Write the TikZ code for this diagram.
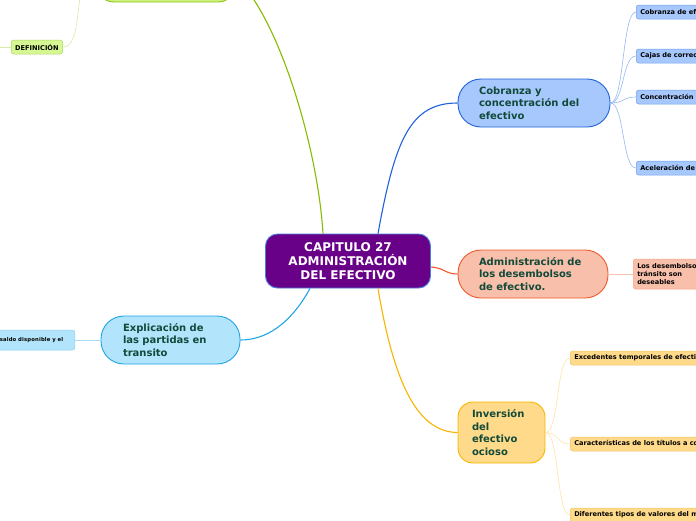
\documentclass[tikz,border=0pt]{standalone}
\usepackage{fontspec}
\setmainfont{DejaVu Sans}
\usepackage{tikz}
\usetikzlibrary{positioning}

\definecolor{morado}{HTML}{690088}
\definecolor{bordecentro}{HTML}{4A7FE0}
\definecolor{verdeosc}{HTML}{124A3A}
\definecolor{verde}{HTML}{CCF27C}
\definecolor{verdeborde}{HTML}{8CC41A}
\definecolor{verdelinea}{HTML}{86BC00}
\definecolor{verdeclaro}{HTML}{D6F794}
\definecolor{verdehoja}{HTML}{ADD85E}
\definecolor{verdeclaroln}{HTML}{D5EDA4}
\definecolor{azul}{HTML}{A6C8FD}
\definecolor{azulborde}{HTML}{1F62D8}
\definecolor{azulhoja}{HTML}{6FA0EE}
\definecolor{azullinea}{HTML}{1F62D8}
\definecolor{azulclaro}{HTML}{94B8F2}
\definecolor{salmon}{HTML}{F8BFAA}
\definecolor{salmonborde}{HTML}{F2572B}
\definecolor{salmonhoja}{HTML}{F4A68A}
\definecolor{salmonlinea}{HTML}{F2572B}
\definecolor{salmonclaro}{HTML}{FAC6B2}
\definecolor{amarillo}{HTML}{FFDA8A}
\definecolor{amarilloborde}{HTML}{F7B500}
\definecolor{amarillohoja}{HTML}{F2C468}
\definecolor{amarillolinea}{HTML}{F7B500}
\definecolor{amarilloclaro}{HTML}{FFE2A6}
\definecolor{celeste}{HTML}{B2E5FB}
\definecolor{celesteborde}{HTML}{20A4E6}
\definecolor{celestehoja}{HTML}{8AD0F0}
\definecolor{celestelinea}{HTML}{20A4E6}
\definecolor{celesteclaro}{HTML}{A6DDF5}

\begin{document}
\begin{tikzpicture}[x=1pt,y=-1pt]
	\tikzstyle{every node}=[font=\bfseries]
	\tikzstyle{rama}=[draw, line width=0.9pt, text=verdeosc, align=left, minimum height=48pt, inner ysep=0pt, font=\bfseries\fontsize{10}{12.5}\selectfont]
	\tikzstyle{hoja}=[draw, line width=0.5pt, rounded corners=2.5pt, anchor=west, align=left, minimum height=14pt, inner xsep=4pt, inner ysep=0pt, font=\bfseries\fontsize{6.6}{7.8}\selectfont]
	\tikzstyle{enlace}=[line width=1.1pt]
	\tikzstyle{ramita}=[line width=0.6pt]
	
	\useasboundingbox (0,0) rectangle (696,520);
	\clip (0,0) rectangle (696,520);
	
	%nodo central
	\node[draw=bordecentro, fill=morado, text=white, line width=0.9pt, rounded corners=12pt, minimum width=165pt, minimum height=54pt, align=center, font=\bfseries\fontsize{12}{14}\selectfont] (cap) at (348,261) {CAPITULO 27\\ADMINISTRACIÓN\\DEL EFECTIVO};
	
	%ramas principales
	\node[rama, fill=verde, draw=verdeborde, rounded corners=18pt, minimum width=140pt] (sup) at (166,-22) {};
	\node[rama, fill=azul, draw=azulborde, rounded corners=23pt, text width=110pt, inner xsep=21pt] (cob) at (534,103) {Cobranza y\\concentración del\\efectivo};
	\node[rama, fill=salmon, draw=salmonborde, rounded corners=23pt, text width=108pt, inner xsep=21pt] (adm) at (533,274) {Administración de\\los desembolsos\\de efectivo.};
	\node[rama, fill=amarillo, draw=amarilloborde, rounded corners=15pt, text width=59pt, inner xsep=14pt, minimum height=61pt] (inv) at (501.5,432.5) {Inversión\\del\\efectivo\\ocioso};
	\node[rama, fill=celeste, draw=celesteborde, rounded corners=23pt, text width=95pt, inner xsep=22pt] (exp) at (170.5,340) {Explicación de\\las partidas en\\transito};
	
	%hojas
	\node[hoja, fill=azul, draw=azulhoja] (c1) at (636,12) {Cobranza de efectivo};
	\node[hoja, fill=azul, draw=azulhoja] (c2) at (636,56) {Cajas de correo};
	\node[hoja, fill=azul, draw=azulhoja] (c3) at (636,97) {Concentración del efectivo};
	\node[hoja, fill=azul, draw=azulhoja] (c4) at (636,168) {Aceleración de los cobros};
	\node[hoja, fill=salmon, draw=salmonhoja, minimum height=30pt] (a1) at (633,274) {Los desembolsos en\\tránsito son\\deseables};
	\node[hoja, fill=amarillo, draw=amarillohoja] (i1) at (570,358) {Excedentes temporales de efectivo};
	\node[hoja, fill=amarillo, draw=amarillohoja] (i2) at (570,444) {Características de los títulos a corto plazo};
	\node[hoja, fill=amarillo, draw=amarillohoja] (i3) at (570,515) {Diferentes tipos de valores del mercado de dinero};
	\node[hoja, fill=verdeclaro, draw=verdehoja] (def) at (11,47) {DEFINICIÓN};
	\node[hoja, fill=celeste, draw=celestehoja, anchor=east, minimum height=20pt, text width=73pt, inner xsep=2pt, font=\bfseries\fontsize{5.3}{6}\selectfont\addfontfeature{LetterSpace=3}] (saldo) at (75,340) {\mbox{saldo disponible y el}};
	
	\coordinate (bordeizq) at (0,47);
	\coordinate (arriba) at (84,-25);
	
	%conectores
	\draw[enlace, verdelinea] ([xshift=-25pt]cap.north) .. controls (318,150) and (280,20) .. (sup.east);
	\draw[enlace, azullinea] ([xshift=30pt]cap.north) .. controls (395,140) and (410,103) .. (cob.west);
	\draw[enlace, salmonlinea] ([yshift=-6pt]cap.east) .. controls (445,268) and (445,274) .. (adm.west);
	\draw[enlace, amarillolinea] ([xshift=30pt]cap.south) .. controls (395,390) and (420,432) .. (inv.west);
	\draw[enlace, celestelinea] ([xshift=-38pt]cap.south) .. controls (290,325) and (265,340) .. (exp.east);
	
	\foreach \h in {c1,c2,c3,c4} \draw[ramita, azulclaro] (cob.east) .. controls +(14,0) and +(-14,0) .. (\h.west);
	\draw[ramita, salmonclaro] (adm.east) -- (a1.west);
	\foreach \h in {i1,i2,i3} \draw[ramita, amarilloclaro] (inv.east) .. controls +(14,0) and +(-14,0) .. (\h.west);
	\draw[ramita, celesteclaro] (saldo.east) -- (exp.west);
	\draw[ramita, verdeclaroln] (bordeizq) -- (def.west);
	\draw[ramita, verdeclaroln] (def.east) .. controls (80,47) and (76,5) .. (arriba);
\end{tikzpicture}
\end{document}
